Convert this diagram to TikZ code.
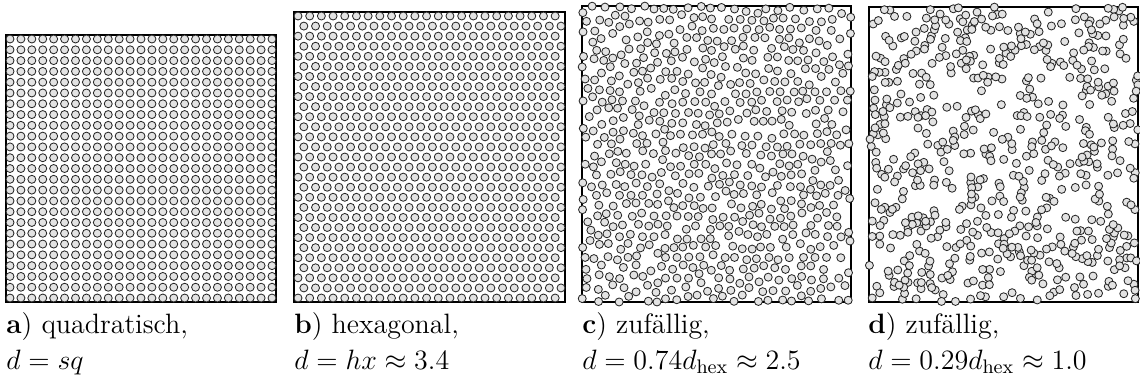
\RequirePackage{fix-cm}
\documentclass[tikz,border=0pt]{standalone}
\tikzset{
  dot/.style={draw=black!85, fill=black!11, line width=0.42pt},
  frame/.style={draw=black, line width=0.55pt},
  lbl/.style={anchor=base west, inner sep=0pt, font=\fontsize{14}{16}\selectfont}
}
\newcommand\mydot[2]{\path[dot] (#1,#2) circle[radius=4];}
\ExplSyntaxOn
\int_new:N \g_my_seed_int
\int_gset:Nn \g_my_seed_int {20240611}
\int_new:N \l_my_q_int
\int_new:N \l_my_r_int
\int_new:N \l_my_W_int
\int_new:N \l_my_H_int
\int_new:N \l_my_C_int
\int_new:N \l_my_D_int
\int_new:N \l_my_ncx_int
\int_new:N \l_my_ncy_int
\int_new:N \l_my_n_int
\int_new:N \l_my_k_int
\int_new:N \l_my_nx_int
\int_new:N \l_my_ny_int
\int_new:N \l_my_ci_int
\int_new:N \l_my_cj_int
\int_new:N \l_my_other_int
\int_new:N \l_my_dx_int
\int_new:N \l_my_dy_int
\int_new:N \l_my_S_int
\bool_new:N \l_my_ok_bool
\tl_new:N \l_my_a_tl
\tl_new:N \l_my_b_tl
\tl_new:N \l_my_i_tl
\tl_new:N \l_my_j_tl
\tl_new:N \l_my_k_tl
\tl_new:N \l_my_s_tl
\intarray_new:Nn \g_my_px_intarray {800}
\intarray_new:Nn \g_my_py_intarray {800}
\intarray_new:Nn \g_my_cell_intarray {14000}

\cs_new_protected:Npn \my_rand_step:
  {
    \int_set:Nn \l_my_q_int { \int_div_truncate:nn { \g_my_seed_int } { 127773 } }
    \int_gset:Nn \g_my_seed_int
      { 16807 * ( \g_my_seed_int - 127773 * \l_my_q_int ) - 2836 * \l_my_q_int }
    \int_compare:nNnT { \g_my_seed_int } < { 0 }
      { \int_gadd:Nn \g_my_seed_int { 2147483647 } }
  }
\cs_new_protected:Npn \my_randint:Nn #1#2
  {
    \my_rand_step:
    \int_set:Nn #1 { \int_mod:nn { \g_my_seed_int } { #2 } }
  }
\cs_new:Npn \my_cell_index:nn #1#2
  {
    \int_eval:n
      {
        \int_div_truncate:nn {#1} { \l_my_C_int } * \l_my_ncy_int
        + \int_div_truncate:nn {#2} { \l_my_C_int } + 1
      }
  }
\cs_new_protected:Npn \my_check:nnn #1#2#3
  {
    \bool_set_true:N \l_my_ok_bool
    \int_set:Nn \l_my_ci_int { \int_div_truncate:nn {#2} { \l_my_C_int } }
    \int_set:Nn \l_my_cj_int { \int_div_truncate:nn {#3} { \l_my_C_int } }
    \int_step_variable:nnNn
      { \int_max:nn {0} { \l_my_ci_int - 2 } }
      { \int_min:nn { \l_my_ncx_int - 1 } { \l_my_ci_int + 2 } }
      \l_my_a_tl
      {
        \int_step_variable:nnNn
          { \int_max:nn {0} { \l_my_cj_int - 2 } }
          { \int_min:nn { \l_my_ncy_int - 1 } { \l_my_cj_int + 2 } }
          \l_my_b_tl
          {
            \int_set:Nn \l_my_other_int
              { \intarray_item:Nn \g_my_cell_intarray { \l_my_a_tl * \l_my_ncy_int + \l_my_b_tl + 1 } }
            \int_compare:nNnT { \l_my_other_int } > { 0 }
              {
                \int_compare:nNnF { \l_my_other_int } = { #1 }
                  {
                    \int_set:Nn \l_my_dx_int
                      { \intarray_item:Nn \g_my_px_intarray { \l_my_other_int } - (#2) }
                    \int_set:Nn \l_my_dy_int
                      { \intarray_item:Nn \g_my_py_intarray { \l_my_other_int } - (#3) }
                    \int_compare:nNnT
                      { \l_my_dx_int * \l_my_dx_int + \l_my_dy_int * \l_my_dy_int } < { \l_my_D_int }
                      { \bool_set_false:N \l_my_ok_bool }
                  }
              }
          }
      }
  }
\cs_new_protected:Npn \my_store:nnn #1#2#3
  {
    \intarray_gset:Nnn \g_my_px_intarray {#1} {#2}
    \intarray_gset:Nnn \g_my_py_intarray {#1} {#3}
    \intarray_gset:Nnn \g_my_cell_intarray { \my_cell_index:nn {#2} {#3} } {#1}
  }
\cs_new_protected:Npn \my_move:n #1
  {
    \int_set:Nn \l_my_k_int {#1}
    \my_randint:Nn \l_my_r_int { 2 * \l_my_S_int + 1 }
    \int_set:Nn \l_my_nx_int
      { \intarray_item:Nn \g_my_px_intarray { \l_my_k_int } + \l_my_r_int - \l_my_S_int }
    \my_randint:Nn \l_my_r_int { 2 * \l_my_S_int + 1 }
    \int_set:Nn \l_my_ny_int
      { \intarray_item:Nn \g_my_py_intarray { \l_my_k_int } + \l_my_r_int - \l_my_S_int }
    \bool_if:nT
      {
        \int_compare_p:nNn { \l_my_nx_int } > { -1 } &&
        \int_compare_p:nNn { \l_my_nx_int } < { \l_my_W_int + 1 } &&
        \int_compare_p:nNn { \l_my_ny_int } > { -1 } &&
        \int_compare_p:nNn { \l_my_ny_int } < { \l_my_H_int + 1 }
      }
      {
        \my_check:nnn { \l_my_k_int } { \l_my_nx_int } { \l_my_ny_int }
        \bool_if:NT \l_my_ok_bool
          {
            \intarray_gset:Nnn \g_my_cell_intarray
              {
                \my_cell_index:nn
                  { \intarray_item:Nn \g_my_px_intarray { \l_my_k_int } }
                  { \intarray_item:Nn \g_my_py_intarray { \l_my_k_int } }
              }
              { 0 }
            \my_store:nnn { \l_my_k_int } { \l_my_nx_int } { \l_my_ny_int }
          }
      }
  }
\cs_new_protected:Npn \my_setup:nnnn #1#2#3#4
  {
    \int_set:Nn \l_my_W_int {#1}
    \int_set:Nn \l_my_H_int {#2}
    \int_set:Nn \l_my_C_int {#3}
    \int_set:Nn \l_my_D_int {#4}
    \int_set:Nn \l_my_ncx_int { \int_div_truncate:nn { \l_my_W_int } { \l_my_C_int } + 1 }
    \int_set:Nn \l_my_ncy_int { \int_div_truncate:nn { \l_my_H_int } { \l_my_C_int } + 1 }
    \intarray_gzero:N \g_my_cell_intarray
    \int_zero:N \l_my_n_int
  }
\cs_new_protected:Npn \my_panel_c:
  {
    \my_setup:nnnn {26900} {29600} {600} {739600}
    \int_set:Nn \l_my_S_int {650}
    \int_step_variable:nnNn {0} {28} \l_my_j_tl
      {
        \int_step_variable:nnNn {0} {22} \l_my_i_tl
          {
            \int_incr:N \l_my_n_int
            \my_store:nnn { \l_my_n_int }
              { 300 + \l_my_i_tl * 1150 + \int_if_odd:nTF { \l_my_j_tl } {575} {0} }
              { 300 + \l_my_j_tl * 1035 }
          }
      }
    \int_step_variable:nnNn {1} {10} \l_my_s_tl
      {
        \int_step_variable:nnNn {1} { \l_my_n_int } \l_my_k_tl
          { \my_move:n { \l_my_k_tl } }
      }
  }
\cs_new_protected:Npn \my_panel_d:
  {
    \my_setup:nnnn {26900} {29500} {240} {115600}
    \int_do_until:nNnn { \l_my_n_int } = { 620 }
      {
        \my_randint:Nn \l_my_nx_int { \l_my_W_int + 1 }
        \my_randint:Nn \l_my_ny_int { \l_my_H_int + 1 }
        \my_check:nnn {0} { \l_my_nx_int } { \l_my_ny_int }
        \bool_if:NT \l_my_ok_bool
          {
            \int_incr:N \l_my_n_int
            \my_store:nnn { \l_my_n_int } { \l_my_nx_int } { \l_my_ny_int }
          }
      }
  }
\cs_new_protected:Npn \my_draw_points:nn #1#2
  {
    \int_step_variable:nnNn {1} { \l_my_n_int } \l_my_k_tl
      {
        \use:e
          {
            \exp_not:N \mydot
              { \fp_eval:n { #1 + \intarray_item:Nn \g_my_px_intarray { \l_my_k_tl } / 100 } }
              { \fp_eval:n { #2 + \intarray_item:Nn \g_my_py_intarray { \l_my_k_tl } / 100 } }
          }
      }
  }
\cs_new_eq:NN \MakePanelC \my_panel_c:
\cs_new_eq:NN \MakePanelD \my_panel_d:
\cs_new_protected:Npn \DrawPoints #1#2 { \my_draw_points:nn {#1} {#2} }
\ExplSyntaxOff

\begin{document}
\begin{tikzpicture}[x=0.5pt,y=-0.5pt]
\useasboundingbox (0,0) rectangle (1140,388);
% panel a: square lattice
\draw[frame] (6,35) rectangle (276,302);
\foreach \i in {0,...,24}{
  \foreach \j in {0,...,24}{
    \path[dot] ({10+\i*10.917},{39+\j*10.792}) circle[radius=4];
  }
}
% panel b: hexagonal lattice
\draw[frame] (294,12) rectangle (565,302);
\foreach \j in {0,...,28}{
  \foreach \i in {0,...,22}{
    \path[dot] ({298+\i*11.689+mod(\j,2)*5.844},{16+\j*10.071}) circle[radius=4];
  }
}
% panel c: random, hard core 2.5
\draw[frame] (582,6) rectangle (851,302);
\MakePanelC
\DrawPoints{582}{6}
% panel d: random, hard core 1.0
\draw[frame] (869,7) rectangle (1138,302);
\MakePanelD
\DrawPoints{869}{7}
% labels
\node[lbl] (la)  at (6,333)   {\textbf{a}) quadratisch,};
\node[lbl] (la2) at (6,369)   {$d=sq$};
\node[lbl] (lb)  at (294,333) {\textbf{b}) hexagonal,};
\node[lbl] (lb2) at (294,369) {$d=hx\approx3.4$};
\node[lbl] (lc)  at (582,333) {\textbf{c}) zufällig,};
\node[lbl] (lc2) at (582,369) {$d=0.74d_{\mathrm{hex}}\approx2.5$};
\node[lbl] (ld)  at (868,333) {\textbf{d}) zufällig,};
\node[lbl] (ld2) at (868,369) {$d=0.29d_{\mathrm{hex}}\approx1.0$};
\end{tikzpicture}
\end{document}
